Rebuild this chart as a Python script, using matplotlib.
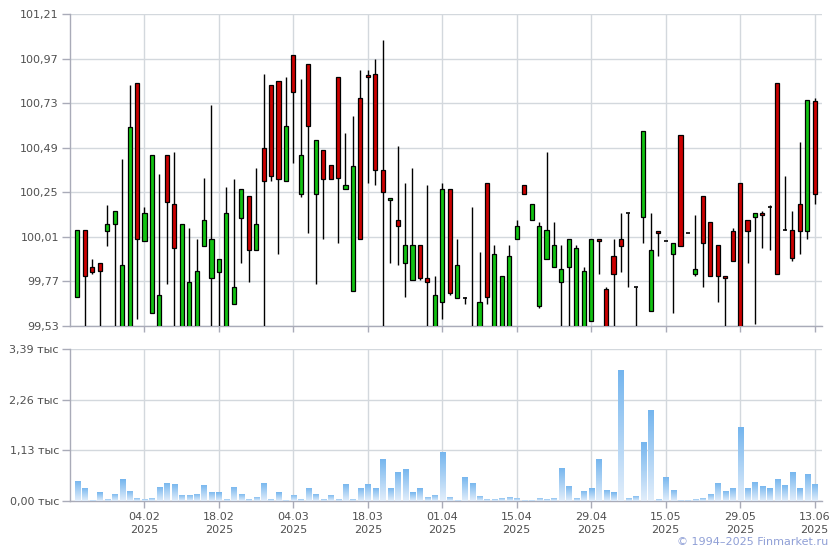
import matplotlib
matplotlib.use("Agg")
import matplotlib.pyplot as plt
import numpy as np
from matplotlib.patches import Rectangle

# ---- data (trading-day index 0..99) ----
opens = [99.684,100.047,99.848,99.869,100.04,100.079,99.45,99.45,100.838,99.988,
         99.60,99.45,100.451,100.187,99.45,99.45,99.45,99.961,99.788,99.821,
         99.45,99.648,100.111,100.23,99.937,100.488,100.828,100.847,100.311,100.989,
         100.241,100.941,100.241,100.478,100.397,100.871,100.268,99.718,100.758,100.881,
         100.887,100.37,100.208,100.101,99.869,99.778,99.966,99.788,99.45,99.659,
         100.268,99.681,99.68,99.50,99.45,100.3,99.45,99.45,99.45,99.998,
         100.289,100.101,99.638,99.891,99.848,99.767,99.848,99.45,99.45,99.557,
         99.998,99.729,99.907,99.998,100.138,99.74,100.117,99.611,100.041,99.988,
         99.918,100.558,100.031,99.81,100.23,100.09,99.966,99.799,100.041,100.3,
         100.101,100.117,100.138,100.171,100.838,100.047,100.047,100.187,100.041,100.741]
highs = [100.047,100.047,99.892,99.869,100.183,100.149,100.429,100.828,100.838,100.171,
         100.451,100.348,100.451,100.469,100.079,100.058,99.998,100.327,100.722,99.891,
         100.278,100.321,100.268,100.23,100.381,100.889,100.828,100.847,100.871,100.989,
         100.86,100.941,100.531,100.478,100.397,100.871,100.569,100.661,100.908,100.908,
         100.968,101.072,100.219,100.5,100.3,100.381,99.966,100.289,99.799,100.3,
         100.268,99.998,99.686,100.171,99.928,100.3,99.966,99.799,99.966,100.101,
         100.289,100.187,100.09,100.469,100.09,99.966,99.998,99.966,99.848,99.998,
         99.998,99.74,99.998,100.138,100.138,99.74,100.58,100.138,100.041,99.988,
         99.977,100.558,100.031,100.128,100.23,100.09,99.966,99.799,100.058,100.3,
         100.101,100.138,100.149,100.181,100.838,100.338,100.149,100.522,100.747,100.758]
lows = [99.684,99.45,99.81,99.45,99.959,99.45,99.45,99.45,99.568,99.988,
        99.60,99.45,99.756,99.45,99.45,99.45,99.45,99.961,99.45,99.45,
        99.45,99.648,99.869,99.765,99.937,99.45,100.309,99.918,100.311,100.406,
        100.226,100.029,99.756,99.998,100.321,99.977,100.268,99.718,99.998,100.298,
        100.289,99.45,99.869,99.858,99.686,99.778,99.778,99.45,99.45,99.568,
        99.697,99.681,99.648,99.40,99.45,99.648,99.45,99.45,99.45,99.998,
        100.241,100.101,99.627,99.891,99.848,99.45,99.45,99.45,99.45,99.557,
        99.81,99.45,99.45,99.821,99.74,99.45,99.975,99.611,99.907,99.988,
        99.6,99.961,100.031,99.799,99.74,99.799,99.659,99.45,99.88,99.40,
        99.869,99.541,99.95,99.939,99.81,100.047,99.88,99.918,99.998,100.187]
closes = [100.047,99.797,99.819,99.824,100.079,100.149,99.86,100.601,99.998,100.138,
          100.451,99.699,100.198,99.95,100.079,99.769,99.828,100.102,99.998,99.891,
          100.138,99.74,100.268,99.937,100.079,100.309,100.336,100.321,100.607,100.788,
          100.451,100.605,100.531,100.321,100.321,100.327,100.289,100.391,99.998,100.871,
          100.37,100.25,100.219,100.068,99.966,99.966,99.788,99.767,99.697,100.268,
          99.708,99.858,99.68,99.47,99.659,99.686,99.918,99.799,99.907,100.068,
          100.241,100.187,100.068,100.047,99.966,99.837,99.998,99.95,99.826,99.998,
          99.988,99.47,99.81,99.961,100.138,99.74,100.58,99.939,100.031,99.988,
          99.977,99.961,100.031,99.837,99.977,99.799,99.799,99.788,99.88,99.40,
          100.041,100.138,100.128,100.171,99.81,100.047,99.896,100.041,100.747,100.241]
volumes = [0.45,0.30,0.03,0.19,0.05,0.16,0.48,0.23,0.07,0.05,
           0.07,0.32,0.41,0.39,0.14,0.14,0.16,0.36,0.21,0.19,
           0.05,0.32,0.16,0.05,0.10,0.41,0.05,0.19,0.03,0.14,
           0.05,0.30,0.16,0.05,0.14,0.05,0.39,0.05,0.30,0.39,
           0.30,0.94,0.30,0.65,0.72,0.19,0.28,0.10,0.14,1.10,
           0.10,0.03,0.54,0.41,0.12,0.05,0.05,0.07,0.10,0.07,
           0.03,0.03,0.07,0.05,0.07,0.74,0.34,0.07,0.23,0.28,
           0.94,0.25,0.19,2.93,0.07,0.12,1.32,2.04,0.05,0.54,
           0.25,0.03,0.03,0.05,0.07,0.16,0.41,0.23,0.30,1.64,
           0.30,0.43,0.34,0.28,0.50,0.36,0.65,0.28,0.61,0.39]
date_tick_idx = [9, 19, 29, 39, 49, 59, 69, 79, 89, 99]
date_tick_labels = ["04.02\n2025", "18.02\n2025", "04.03\n2025", "18.03\n2025", "01.04\n2025",
                    "15.04\n2025", "29.04\n2025", "15.05\n2025", "29.05\n2025", "13.06\n2025"]
price_ticks = [99.53, 99.77, 100.01, 100.25, 100.49, 100.73, 100.97, 101.21]
vol_ticks = [0.0, 1.13, 2.26, 3.39]

# ---- style ----
plt.rcParams['font.family'] = ['DejaVu Sans']
GRID = '#d3d8dd'
SPINE = '#a9abb8'
TXT = '#505050'
GREEN = '#12c312'
RED = '#cc0000'

fig = plt.figure(figsize=(8.4, 5.5), dpi=100)
W, H = 840, 550
def rect(l, t, r, b):
    return [l / W, 1 - b / H, (r - l) / W, (b - t) / H]

ax1 = fig.add_axes(rect(70, 14, 822, 326))
ax2 = fig.add_axes(rect(70, 349, 822, 501))

x = np.arange(len(opens))
o = np.array(opens); c = np.array(closes); h = np.array(highs); l = np.array(lows)

# wicks
ax1.vlines(x, l, h, color='black', linewidth=1.0, zorder=3)
# bodies
bw = 0.55
up = c > o
dn = c < o
eq = c == o
ax1.bar(x[up], (c - o)[up], bottom=o[up], width=bw, color=GREEN, edgecolor='black', linewidth=0.9, zorder=4)
ax1.bar(x[dn], (o - c)[dn], bottom=c[dn], width=bw, color=RED, edgecolor='black', linewidth=0.9, zorder=4)
ax1.hlines(o[eq], x[eq] - bw / 2, x[eq] + bw / 2, color='black', linewidth=1.2, zorder=4)

# volume bars with gradient
vw = 0.68
grad = np.linspace(0, 1, 64).reshape(-1, 1)
from matplotlib.colors import LinearSegmentedColormap
cmap = LinearSegmentedColormap.from_list('vg', ['#e2eefb', '#74b5ee'])
bars = ax2.bar(x, volumes, width=vw, color='none', edgecolor='none', zorder=3)
for xi, v, b in zip(x, volumes, bars):
    im = ax2.imshow(grad, extent=(xi - vw / 2, xi + vw / 2, 0, v), origin='lower',
                    cmap=cmap, aspect='auto', zorder=3, interpolation='bilinear')
    im.set_clip_path(b)

for ax in (ax1, ax2):
    ax.set_xlim(-1.0, 100.0)
    ax.set_xticks(date_tick_idx)
    ax.grid(True, color=GRID, linewidth=1.0, zorder=0)
    ax.set_axisbelow(True)
    for s in ('top', 'right'):
        ax.spines[s].set_visible(False)
    for s in ('left', 'bottom'):
        ax.spines[s].set_color(SPINE)
        ax.spines[s].set_linewidth(1.0)
    ax.tick_params(axis='both', colors=SPINE, labelcolor=TXT, labelsize=8, length=6, width=1.0, pad=2)
    ax.set_facecolor('white')

ax1.set_ylim(price_ticks[0], price_ticks[-1])
ax1.set_yticks(price_ticks)
ax1.set_yticklabels([f"{v:.2f}".replace('.', ',') for v in price_ticks])
ax1.set_xticklabels([])
ax1.tick_params(axis='x', length=4)

ax2.set_ylim(vol_ticks[0], vol_ticks[-1])
ax2.set_yticks(vol_ticks)
ax2.set_yticklabels([f"{v:.2f}".replace('.', ',') + " тыс" for v in vol_ticks])
ax2.set_xticklabels(date_tick_labels, linespacing=1.35)
ax2.tick_params(axis='x', length=5, pad=3)

fig.text(828 / W, 1 - 542 / H, "© 1994–2025 Finmarket.ru", ha='right', va='center',
         fontsize=8, color='#8f9fd6')

fig.savefig('out.png', dpi=100, facecolor='white')
